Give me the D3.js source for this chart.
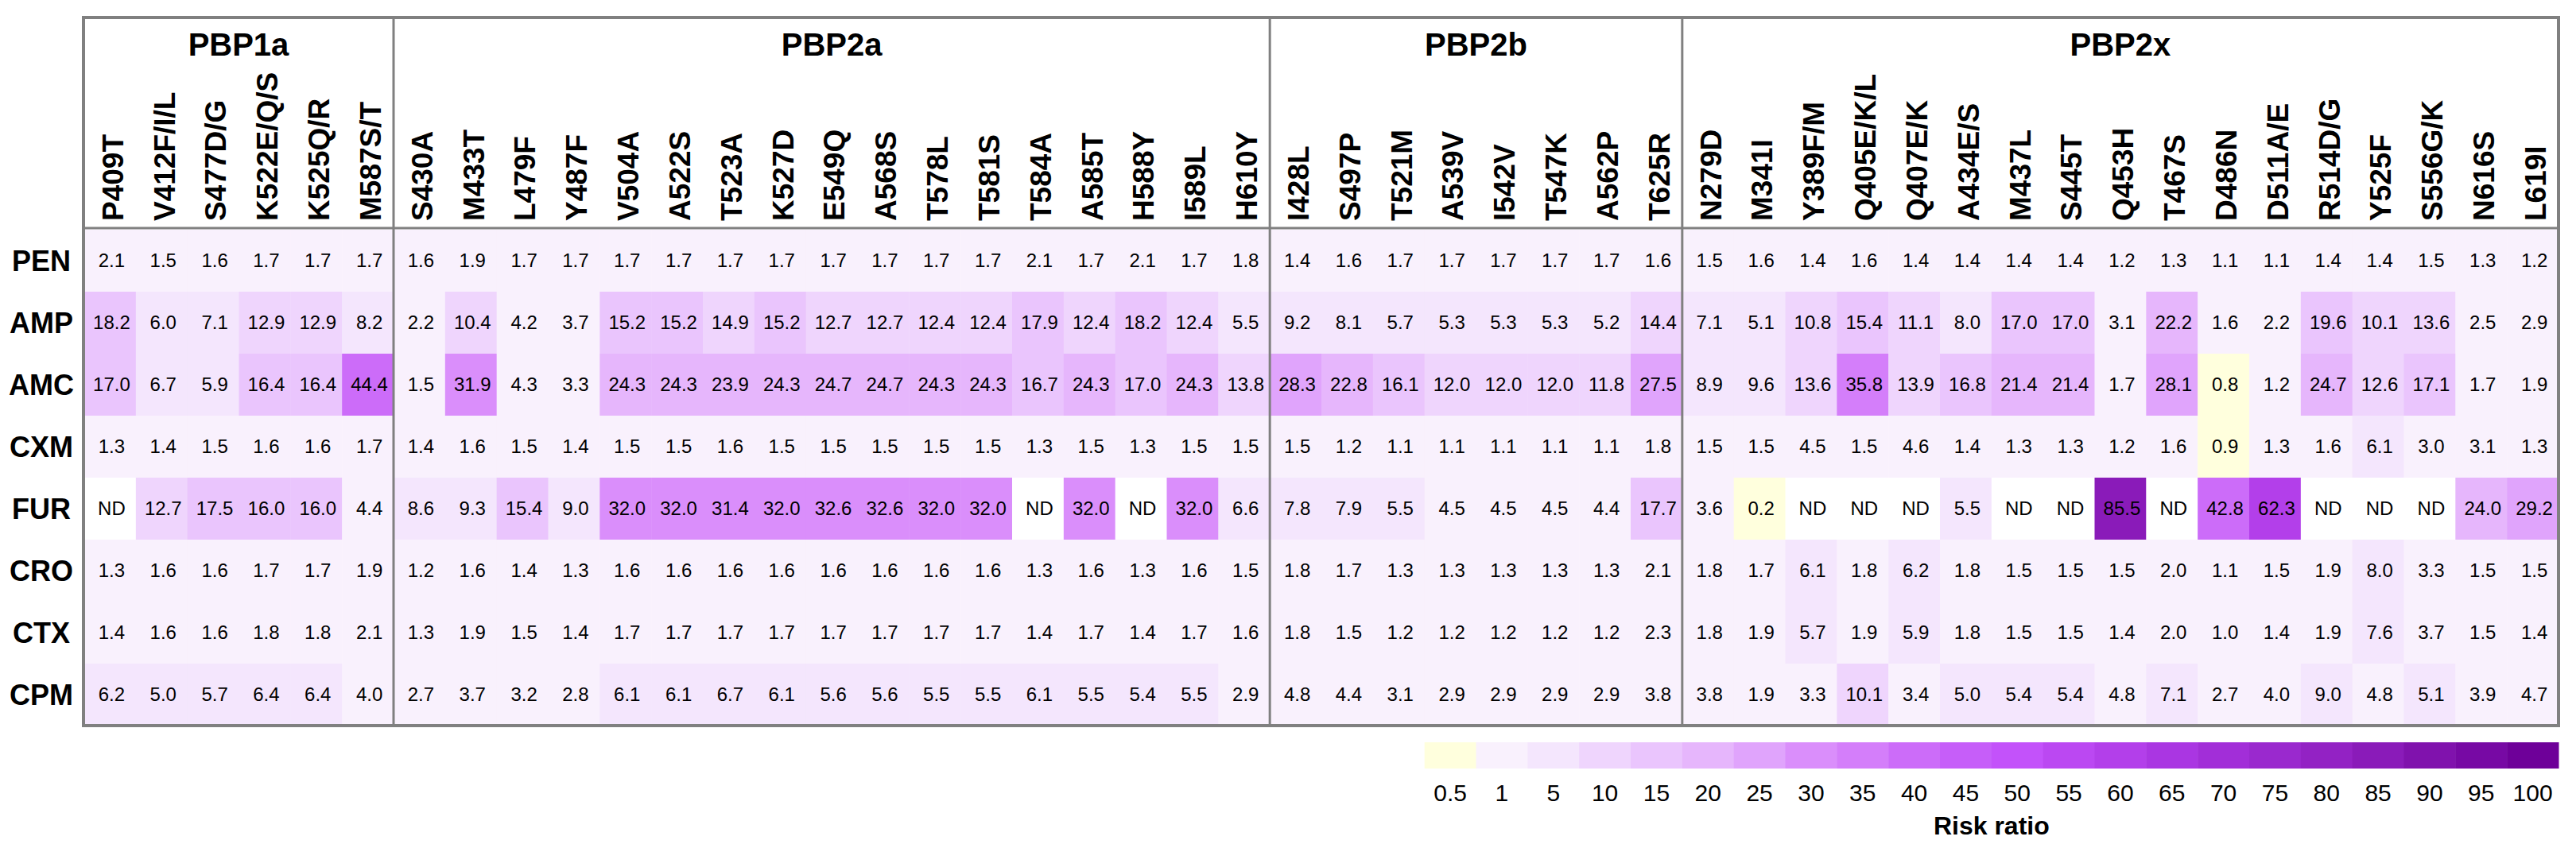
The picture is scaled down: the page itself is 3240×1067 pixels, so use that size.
<!DOCTYPE html>
<html>
<head>
<meta charset="utf-8">
<script src="https://cdn.jsdelivr.net/npm/d3@7"></script>
<style>
    body { margin: 0; background: #fff; }
    text { font-family: "Liberation Sans", Arial, sans-serif; fill: #000; }
    .geneTitle { font-size: 40px; font-weight: bold; }
    .colLabel { font-size: 37px; font-weight: bold; }
    .rowLabel { font-size: 36px; font-weight: bold; }
    .cellText { font-size: 24px; }
    .legendText { font-family: "Liberation Sans Narrow", "Liberation Sans", Arial, sans-serif; font-size: 30px; }
    .legendTitle { font-size: 32px; font-weight: bold; }
</style>
</head>
<body>
<script>
//genes and the number of mutation columns in each
var genes = ["PBP1a", "PBP2a", "PBP2b", "PBP2x"];
var geneSizes = [6, 17, 8, 17];

//mutation column labels, in order
var mutations = [
    "P409T", "V412F/I/L", "S477D/G", "K522E/Q/S", "K525Q/R", "M587S/T",
    "S430A", "M433T", "L479F", "Y487F", "V504A", "A522S", "T523A", "K527D", "E549Q", "A568S", "T578L", "T581S", "T584A", "A585T", "H588Y", "I589L", "H610Y",
    "I428L", "S497P", "T521M", "A539V", "I542V", "T547K", "A562P", "T625R",
    "N279D", "M341I", "Y389F/M", "Q405E/K/L", "Q407E/K", "A434E/S", "M437L", "S445T", "Q453H", "T467S", "D486N", "D511A/E", "R514D/G", "Y525F", "S556G/K", "N616S", "L619I"
];

//antibiotic rows
var drugs = ["PEN", "AMP", "AMC", "CXM", "FUR", "CRO", "CTX", "CPM"];

//risk ratios per antibiotic (null = ND)
var riskPEN = [2.1, 1.5, 1.6, 1.7, 1.7, 1.7,
    1.6, 1.9, 1.7, 1.7, 1.7, 1.7, 1.7, 1.7, 1.7, 1.7, 1.7, 1.7, 2.1, 1.7, 2.1, 1.7, 1.8,
    1.4, 1.6, 1.7, 1.7, 1.7, 1.7, 1.7, 1.6,
    1.5, 1.6, 1.4, 1.6, 1.4, 1.4, 1.4, 1.4, 1.2, 1.3, 1.1, 1.1, 1.4, 1.4, 1.5, 1.3, 1.2];
var riskAMP = [18.2, 6.0, 7.1, 12.9, 12.9, 8.2,
    2.2, 10.4, 4.2, 3.7, 15.2, 15.2, 14.9, 15.2, 12.7, 12.7, 12.4, 12.4, 17.9, 12.4, 18.2, 12.4, 5.5,
    9.2, 8.1, 5.7, 5.3, 5.3, 5.3, 5.2, 14.4,
    7.1, 5.1, 10.8, 15.4, 11.1, 8.0, 17.0, 17.0, 3.1, 22.2, 1.6, 2.2, 19.6, 10.1, 13.6, 2.5, 2.9];
var riskAMC = [17.0, 6.7, 5.9, 16.4, 16.4, 44.4,
    1.5, 31.9, 4.3, 3.3, 24.3, 24.3, 23.9, 24.3, 24.7, 24.7, 24.3, 24.3, 16.7, 24.3, 17.0, 24.3, 13.8,
    28.3, 22.8, 16.1, 12.0, 12.0, 12.0, 11.8, 27.5,
    8.9, 9.6, 13.6, 35.8, 13.9, 16.8, 21.4, 21.4, 1.7, 28.1, 0.8, 1.2, 24.7, 12.6, 17.1, 1.7, 1.9];
var riskCXM = [1.3, 1.4, 1.5, 1.6, 1.6, 1.7,
    1.4, 1.6, 1.5, 1.4, 1.5, 1.5, 1.6, 1.5, 1.5, 1.5, 1.5, 1.5, 1.3, 1.5, 1.3, 1.5, 1.5,
    1.5, 1.2, 1.1, 1.1, 1.1, 1.1, 1.1, 1.8,
    1.5, 1.5, 4.5, 1.5, 4.6, 1.4, 1.3, 1.3, 1.2, 1.6, 0.9, 1.3, 1.6, 6.1, 3.0, 3.1, 1.3];
var riskFUR = [null, 12.7, 17.5, 16.0, 16.0, 4.4,
    8.6, 9.3, 15.4, 9.0, 32.0, 32.0, 31.4, 32.0, 32.6, 32.6, 32.0, 32.0, null, 32.0, null, 32.0, 6.6,
    7.8, 7.9, 5.5, 4.5, 4.5, 4.5, 4.4, 17.7,
    3.6, 0.2, null, null, null, 5.5, null, null, 85.5, null, 42.8, 62.3, null, null, null, 24.0, 29.2];
var riskCRO = [1.3, 1.6, 1.6, 1.7, 1.7, 1.9,
    1.2, 1.6, 1.4, 1.3, 1.6, 1.6, 1.6, 1.6, 1.6, 1.6, 1.6, 1.6, 1.3, 1.6, 1.3, 1.6, 1.5,
    1.8, 1.7, 1.3, 1.3, 1.3, 1.3, 1.3, 2.1,
    1.8, 1.7, 6.1, 1.8, 6.2, 1.8, 1.5, 1.5, 1.5, 2.0, 1.1, 1.5, 1.9, 8.0, 3.3, 1.5, 1.5];
var riskCTX = [1.4, 1.6, 1.6, 1.8, 1.8, 2.1,
    1.3, 1.9, 1.5, 1.4, 1.7, 1.7, 1.7, 1.7, 1.7, 1.7, 1.7, 1.7, 1.4, 1.7, 1.4, 1.7, 1.6,
    1.8, 1.5, 1.2, 1.2, 1.2, 1.2, 1.2, 2.3,
    1.8, 1.9, 5.7, 1.9, 5.9, 1.8, 1.5, 1.5, 1.4, 2.0, 1.0, 1.4, 1.9, 7.6, 3.7, 1.5, 1.4];
var riskCPM = [6.2, 5.0, 5.7, 6.4, 6.4, 4.0,
    2.7, 3.7, 3.2, 2.8, 6.1, 6.1, 6.7, 6.1, 5.6, 5.6, 5.5, 5.5, 6.1, 5.5, 5.4, 5.5, 2.9,
    4.8, 4.4, 3.1, 2.9, 2.9, 2.9, 2.9, 3.8,
    3.8, 1.9, 3.3, 10.1, 3.4, 5.0, 5.4, 5.4, 4.8, 7.1, 2.7, 4.0, 9.0, 4.8, 5.1, 3.9, 4.7];

//legend bins (lower bound of each class) and their colours
var legendBreaks = [0.5, 1, 5, 10, 15, 20, 25, 30, 35, 40, 45, 50, 55, 60, 65, 70, 75, 80, 85, 90, 95, 100];
var legendColors = ["#ffffdd", "#f9f1fd", "#f4e6fd", "#efd5fd", "#eac5fd", "#e6b6fc", "#e0a4fc", "#da8efb",
    "#d47efa", "#cc6cf9", "#c65ef9", "#c352fa", "#bb48f2", "#b33fea", "#aa36e2", "#a22ed8",
    "#9a29ce", "#9322c4", "#8a1bb9", "#8012ad", "#7709a4", "#6e0099"];

(function(){
    var riskRows = [riskPEN, riskAMP, riskAMC, riskCXM, riskFUR, riskCRO, riskCTX, riskCPM];

    var width = 3240,
        height = 1067,
        frameLeft = 105,
        frameRight = 3218,
        frameTop = 22,
        headerBottom = 288,
        frameBottom = 913;

    var svg = d3.select("body")
        .append("svg")
        .attr("width", width)
        .attr("height", height);

    //column and row scales
    var x = d3.scaleBand()
        .domain(d3.range(mutations.length))
        .range([frameLeft + 1, frameRight]);

    var y = d3.scaleBand()
        .domain(drugs)
        .range([headerBottom + 1, frameBottom]);

    //threshold colour scale, values below 1 fall in the 0.5 class
    var color = d3.scaleThreshold()
        .domain(legendBreaks.slice(1))
        .range(legendColors);

    //flatten the matrix into cells
    var cells = [];
    drugs.forEach(function(drug, r){
        riskRows[r].forEach(function(v, c){
            cells.push({drug: drug, col: c, value: v});
        });
    });

    //cells
    svg.selectAll(".cell")
        .data(cells)
        .enter()
        .append("rect")
        .attr("class", "cell")
        .attr("x", function(d){ return x(d.col); })
        .attr("y", function(d){ return y(d.drug); })
        .attr("width", x.bandwidth() + 0.5)
        .attr("height", y.bandwidth() + 0.5)
        .style("fill", function(d){
            return d.value === null ? "#ffffff" : color(d.value);
        });

    //cell values
    svg.selectAll(".cellText")
        .data(cells)
        .enter()
        .append("text")
        .attr("class", "cellText")
        .attr("x", function(d){ return x(d.col) + x.bandwidth() / 2 + 2; })
        .attr("y", function(d){ return y(d.drug) + y.bandwidth() / 2; })
        .attr("dy", "0.35em")
        .attr("text-anchor", "middle")
        .text(function(d){ return d.value === null ? "ND" : d.value.toFixed(1); });

    //row labels
    svg.selectAll(".rowLabel")
        .data(drugs)
        .enter()
        .append("text")
        .attr("class", "rowLabel")
        .attr("x", 52)
        .attr("y", function(d){ return y(d) + y.bandwidth() / 2; })
        .attr("dy", "0.36em")
        .attr("text-anchor", "middle")
        .text(function(d){ return d; });

    //rotated mutation labels
    svg.selectAll(".colLabel")
        .data(mutations)
        .enter()
        .append("text")
        .attr("class", "colLabel")
        .attr("transform", function(d, i){
            return "translate(" + (x(i) + x.bandwidth() / 2 + 3) + ",278) rotate(-90)";
        })
        .attr("dy", "0.36em")
        .attr("text-anchor", "start")
        .text(function(d){ return d; });

    //gene groups: start index of each group
    var starts = [];
    var acc = 0;
    geneSizes.forEach(function(n){ starts.push(acc); acc += n; });

    svg.selectAll(".geneTitle")
        .data(genes)
        .enter()
        .append("text")
        .attr("class", "geneTitle")
        .attr("x", function(d, i){
            var x0 = i === 0 ? frameLeft : x(starts[i]);
            var x1 = i === genes.length - 1 ? frameRight : x(starts[i + 1]);
            return (x0 + x1) / 2;
        })
        .attr("y", 70)
        .attr("text-anchor", "middle")
        .text(function(d){ return d; });

    //group divider lines
    svg.selectAll(".divider")
        .data(starts.slice(1))
        .enter()
        .append("line")
        .attr("class", "divider")
        .attr("x1", function(d){ return x(d); })
        .attr("x2", function(d){ return x(d); })
        .attr("y1", frameTop)
        .attr("y2", frameBottom)
        .style("stroke", "#808080")
        .style("stroke-width", 3);

    //line under the header
    svg.append("line")
        .attr("x1", frameLeft)
        .attr("x2", frameRight)
        .attr("y1", headerBottom - 1)
        .attr("y2", headerBottom - 1)
        .style("stroke", "#808080")
        .style("stroke-width", 3);

    //outer frame
    svg.append("rect")
        .attr("x", frameLeft)
        .attr("y", frameTop)
        .attr("width", frameRight - frameLeft)
        .attr("height", frameBottom - frameTop)
        .style("fill", "none")
        .style("stroke", "#808080")
        .style("stroke-width", 4);

    //legend, aligned to the last 22 columns
    var lx = d3.scaleBand()
        .domain(legendBreaks)
        .range([x(mutations.length - legendBreaks.length), frameRight]);

    var legend = svg.append("g").attr("class", "legend");

    legend.selectAll("rect")
        .data(legendBreaks)
        .enter()
        .append("rect")
        .attr("x", function(d){ return lx(d); })
        .attr("y", 934)
        .attr("width", lx.bandwidth() + 0.5)
        .attr("height", 33)
        .style("fill", function(d, i){ return legendColors[i]; });

    legend.selectAll(".legendText")
        .data(legendBreaks)
        .enter()
        .append("text")
        .attr("class", "legendText")
        .attr("x", function(d){ return lx(d) + lx.bandwidth() / 2; })
        .attr("y", 1008)
        .attr("text-anchor", "middle")
        .text(function(d){ return d; });

    legend.append("text")
        .attr("class", "legendTitle")
        .attr("x", (lx.range()[0] + lx.range()[1]) / 2)
        .attr("y", 1050)
        .attr("text-anchor", "middle")
        .text("Risk ratio");
})();
</script>
</body>
</html>
